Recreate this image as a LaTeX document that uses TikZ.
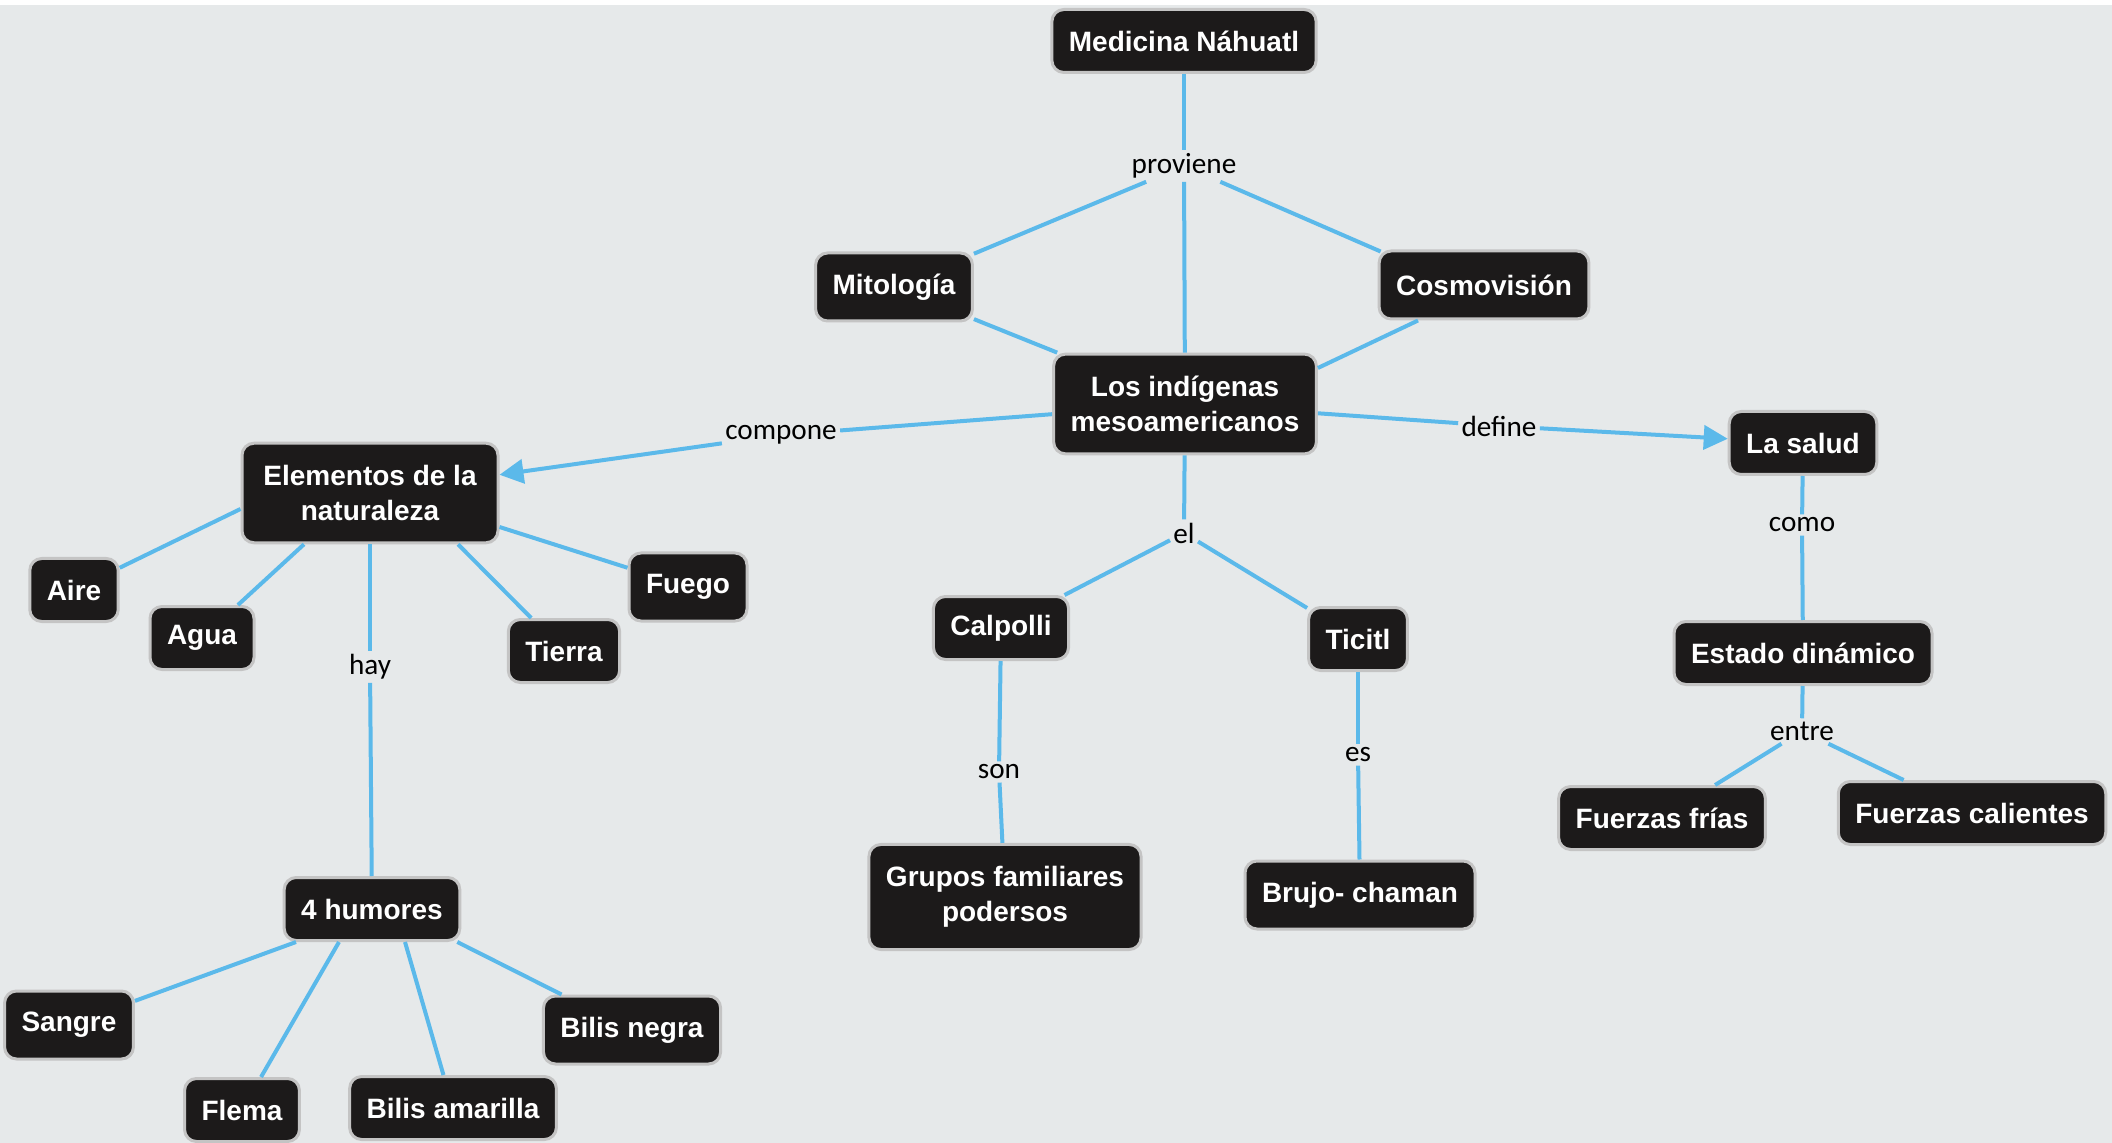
\documentclass[tikz,border=0pt]{standalone}
\usepackage{fontspec}
\setmainfont{Liberation Sans}
\newfontfamily\labelfont{Carlito}
\usetikzlibrary{arrows.meta,calc}
\definecolor{bgc}{HTML}{E6E9EA}
\definecolor{linkc}{HTML}{5BB9EA}
\definecolor{boxc}{HTML}{1C1A1A}
\definecolor{bordc}{HTML}{C4C4C4}
\tikzset{
  concept/.style={fill=boxc, draw=bordc, line width=1.5pt, rounded corners=6pt,
    text=white, font=\fontsize{14}{17.5}\selectfont\bfseries, align=center,
    inner xsep=8.5pt, inner ysep=7pt, minimum height=31.5pt},
  tall/.style={minimum height=34pt},
  twoline/.style={inner ysep=11pt},
  lbl/.style={font=\labelfont\fontsize{14.6}{16}\selectfont, text=black, inner sep=1.5pt},
  link/.style={draw=linkc, line width=2pt},
  arr/.style={link, -{Triangle[length=12pt,width=12pt]}}
}
\begin{document}
\begin{tikzpicture}[x=0.5pt,y=-0.5pt]
\fill[white] (0,0) rectangle (2112,5);
\fill[bgc] (0,5) rectangle (2112,1143);
\useasboundingbox (0,0) rectangle (2112,1143);

% concepts
\node[concept] (med) at (1184,41) {Medicina Náhuatl};
\node[concept,tall] (mit) at (894,287) {Mitología};
\node[concept,tall] (cos) at (1484,285) {Cosmovisión};
\node[concept,twoline] (ind) at (1185,404) {Los indígenas\\mesoamericanos};
\node[concept,twoline,minimum width=128pt] (ele) at (370,493) {Elementos de la\\naturaleza};
\node[concept] (sal) at (1803,443) {La salud};
\node[concept] (aire) at (74,590) {Aire};
\node[concept] (agua) at (202,638) {Agua};
\node[concept] (tierra) at (564,651) {Tierra};
\node[concept,tall] (fuego) at (688,587) {Fuego};
\node[concept] (hum) at (372,909) {4 humores};
\node[concept,tall] (sangre) at (69,1025) {Sangre};
\node[concept] (flema) at (242,1110) {Flema};
\node[concept] (bama) at (453,1108) {Bilis amarilla};
\node[concept,tall] (bneg) at (632,1030) {Bilis negra};
\node[concept] (calp) at (1001,628) {Calpolli};
\node[concept] (tici) at (1358,639) {Ticitl};
\node[concept,twoline] (grup) at (1005,897) {Grupos familiares\\podersos};
\node[concept,tall] (bruj) at (1360,895) {Brujo- chaman};
\node[concept] (est) at (1803,653) {Estado dinámico};
\node[concept] (ffri) at (1662,818) {Fuerzas frías};
\node[concept] (fcal) at (1972,813) {Fuerzas calientes};

% link labels
\node[lbl] (lprov) at (1184,166) {proviene};
\node[lbl] (lcomp) at (781,435) {compone};
\node[lbl] (ldef) at (1499,426) {define};
\node[lbl] (lel) at (1184,533) {el};
\node[lbl] (lcomo) at (1802,525) {como};
\node[lbl] (lhay) at (370,667) {hay};
\node[lbl] (lson) at (999,772) {son};
\node[lbl] (les) at (1358,755) {es};
\node[lbl] (lentre) at (1802,731) {entre};

% connectors
\draw[link] (med) -- (lprov);
\draw[link] (lprov) -- (mit);
\draw[link] (lprov) -- ($(cos.north west)+(3,2)$);
\draw[link] (lprov) -- (ind);
\draw[link] (mit) -- (ind);
\draw[link] ($(cos.south)+(-66,0)$) -- ($(ind.east)+(0,-36)$);

\draw[link] (ind) -- (lcomp);
\draw[arr] (lcomp) -- (ele);
\draw[link] (ind) -- (ldef);
\draw[arr] (ldef) -- (sal);

\draw[link] (ind) -- (lel);
\draw[link] (lel) -- (calp);
\draw[link] (lel) -- (tici);
\draw[link] (calp) -- (lson);
\draw[link] (lson) -- (grup);
\draw[link] (tici) -- (les);
\draw[link] (les) -- (bruj);

\draw[link] (sal) -- (lcomo);
\draw[link] (lcomo) -- (est);
\draw[link] (est) -- (lentre);
\draw[link] (lentre) -- (ffri);
\draw[link] (lentre) -- (fcal);

\draw[link] ($(ele.west)+(0,16)$) -- (aire);
\draw[link] ($(ele.south)+(-66,0)$) -- (agua);
\draw[link] ($(ele.south)+(88,0)$) -- (tierra);
\draw[link] ($(ele.east)+(0,34)$) -- (fuego);
\draw[link] (ele) -- (lhay);
\draw[link] (lhay) -- (hum);

\draw[link] ($(hum.south)+(-76,0)$) -- (sangre);
\draw[link] ($(hum.south)+(-33,0)$) -- (flema);
\draw[link] ($(hum.south)+(33,0)$) -- (bama);
\draw[link] ($(hum.south east)+(-4,0)$) -- (bneg);
\end{tikzpicture}
\end{document}
